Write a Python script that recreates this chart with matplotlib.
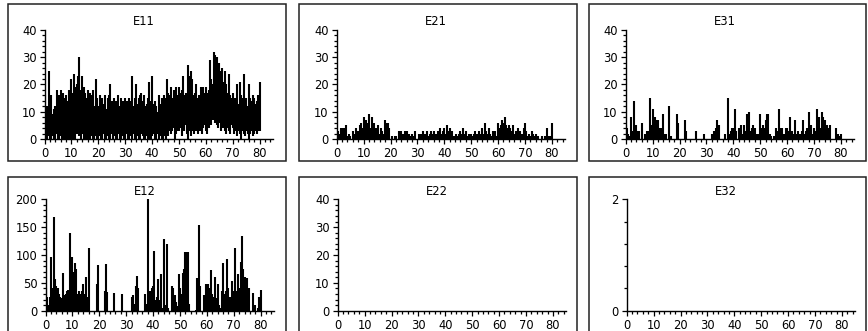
import numpy as np
import matplotlib
matplotlib.use('Agg')
import matplotlib.pyplot as plt
from matplotlib.patches import Rectangle
from matplotlib.ticker import MultipleLocator

plt.rcParams['font.family'] = ['DejaVu Sans']

W, H = 868, 331

# time axis for the dense series, half-unit steps 0..80
t = np.arange(0, 80.5, 0.5)

e11_high = [16, 10, 12, 25, 10, 16, 9, 11, 12, 18, 14, 16, 18, 11, 17, 15, 16, 14, 18, 15,
            22, 17, 24, 19, 20, 23, 30, 18, 23, 19, 17, 15, 18, 14, 17, 16, 18, 12, 22, 15,
            12, 16, 14, 15, 13, 16, 11, 15, 16, 20, 14, 7, 15, 14, 13, 16, 12, 15, 14, 13,
            15, 14, 13, 15, 14, 23, 12, 15, 20, 13, 15, 16, 17, 14, 16, 12, 13, 15, 21, 14,
            23, 13, 14, 12, 10, 16, 13, 15, 14, 16, 15, 22, 17, 16, 19, 15, 18, 14, 19, 16,
            19, 17, 18, 23, 16, 17, 16, 27, 23, 25, 22, 16, 17, 20, 15, 16, 19, 18, 19, 17,
            19, 17, 18, 29, 22, 20, 32, 31, 30, 27, 28, 25, 26, 21, 25, 20, 17, 24, 16, 15,
            17, 14, 15, 20, 13, 21, 16, 15, 24, 14, 15, 12, 20, 15, 14, 16, 15, 13, 14, 16,
            21]
e11_low = [1, 0, 0, 1, 0, 0, 1, 0, 0, 2, 0, 0, 1, 0, 0, 0, 1, 0, 0, 1,
           0, 0, 1, 0, 2, 3, 1, 0, 2, 0, 1, 0, 0, 2, 0, 1, 0, 0, 1, 0,
           0, 1, 0, 0, 2, 0, 0, 1, 0, 0, 2, 0, 1, 0, 0, 2, 0, 0, 1, 0,
           0, 2, 0, 0, 1, 0, 2, 0, 0, 1, 0, 0, 2, 1, 0, 0, 1, 0, 0, 0,
           1, 2, 0, 0, 2, 0, 1, 0, 0, 1, 0, 2, 1, 3, 2, 3, 4, 0, 2, 3,
           3, 4, 1, 3, 3, 5, 2, 0, 3, 1, 3, 2, 4, 3, 2, 3, 3, 2, 4, 5,
           3, 2, 4, 8, 5, 7, 8, 6, 5, 4, 6, 3, 5, 4, 3, 2, 4, 3, 2, 5,
           4, 2, 3, 1, 3, 2, 0, 3, 2, 1, 3, 2, 0, 2, 3, 1, 2, 3, 2, 3,
           3]

e21 = [2, 3, 2, 4, 2, 4, 4, 5, 1, 2, 1, 0, 3, 2, 4, 2, 3, 5, 6, 4,
       8, 5, 7, 6, 9, 4, 8, 3, 6, 4, 3, 5, 2, 4, 3, 2, 7, 6, 6, 4,
       0, 1, 0, 1, 1, 0, 3, 2, 3, 2, 2, 3, 3, 2, 2, 1, 2, 1, 3, 0,
       0, 2, 1, 2, 3, 2, 2, 3, 1, 2, 3, 2, 3, 1, 2, 3, 1, 4, 2, 3,
       4, 2, 5, 3, 4, 2, 3, 1, 1, 2, 1, 2, 3, 2, 4, 2, 3, 1, 2, 1,
       2, 1, 2, 3, 2, 1, 3, 2, 4, 2, 6, 3, 2, 4, 2, 1, 3, 2, 3, 1,
       6, 4, 5, 7, 6, 8, 5, 4, 5, 4, 3, 5, 2, 3, 2, 4, 3, 1, 2, 4,
       6, 3, 1, 2, 1, 3, 2, 1, 2, 1, 1, 0, 0, 1, 0, 1, 4, 1, 1, 1,
       6]

e31_x = [0, 0.5, 1, 1.5, 2, 2.5, 3, 3.5, 4, 4.5, 5, 6, 7, 8, 8.5, 9, 9.5, 10, 10.5, 11,
         11.5, 12, 12.5, 13, 13.5, 14, 14.5, 15, 16, 17, 19, 19.5, 22, 22.5, 26, 29,
         32, 32.5, 33, 33.5, 34, 34.5, 37, 38, 38.5, 39, 39.5, 40, 40.5, 41, 42, 42.5,
         43, 43.5, 44, 44.5, 45, 45.5, 46, 46.5, 47, 47.5, 48, 48.5, 49, 49.5, 50, 50.5,
         51, 51.5, 52, 52.5, 53, 53.5, 54, 55, 56, 56.5, 57, 57.5, 58, 58.5, 59, 59.5,
         60, 60.5, 61, 61.5, 62, 62.5, 63, 63.5, 64, 64.5, 65, 65.5, 66, 66.5, 67, 67.5,
         68, 68.5, 69, 69.5, 70, 70.5, 71, 71.5, 72, 72.5, 73, 73.5, 74, 74.5, 75, 75.5,
         76, 77, 78, 78.5, 79, 79.5, 80]
e31_v = [5, 4, 2, 1, 8, 3, 14, 4, 5, 3, 3, 6, 2, 3, 3, 15, 5, 11, 6, 8,
         7, 7, 4, 4, 3, 9, 2, 2, 12, 1, 9, 6, 7, 3, 3, 2,
         2, 2, 3, 4, 7, 5, 2, 15, 2, 3, 4, 4, 11, 3, 4, 3,
         5, 2, 5, 3, 9, 4, 10, 3, 4, 5, 4, 2, 2, 2, 9, 4,
         5, 4, 7, 9, 9, 2, 1, 1, 4, 3, 11, 4, 4, 2, 2, 4,
         4, 3, 8, 3, 3, 2, 7, 2, 3, 2, 2, 3, 7, 2, 3, 4,
         10, 3, 5, 2, 4, 3, 11, 6, 8, 4, 10, 8, 7, 5, 5, 4,
         5, 0, 4, 2, 2, 1, 2]

e12_x = [0, 0.5, 1, 1.5, 2, 2.5, 3, 3.5, 4, 4.5, 5, 5.5, 6, 6.5, 7, 7.5, 8, 8.5, 9, 9.5,
         10, 10.5, 11, 11.5, 12, 12.5, 13, 13.5, 14, 14.5, 15, 15.5, 16, 19, 19.5,
         22, 22.5, 23, 25.5, 28.5, 32, 32.5, 33, 33.5, 34, 34.5, 37, 37.5, 38, 38.5,
         39, 39.5, 40, 40.5, 41, 41.5, 42, 42.5, 43, 43.5, 44, 44.5, 45, 45.5, 47,
         47.5, 48, 48.5, 49, 49.5, 50, 50.5, 51, 51.5, 52, 52.5, 53, 53.5, 56, 56.5,
         57, 57.5, 59, 59.5, 60, 60.5, 61, 61.5, 62, 62.5, 63, 63.5, 64, 64.5, 65,
         65.5, 66, 66.5, 67, 67.5, 68, 68.5, 69, 69.5, 70, 70.5, 71, 71.5, 72, 72.5,
         73, 73.5, 74, 74.5, 75, 75.5, 77, 78, 79, 79.5, 80]
e12_v = [40, 25, 10, 25, 97, 40, 168, 57, 45, 40, 30, 25, 22, 68, 28, 30, 35, 38, 140, 65,
         97, 70, 85, 75, 30, 35, 30, 35, 48, 30, 60, 25, 113, 48, 82,
         35, 83, 33, 32, 30, 25, 28, 12, 45, 62, 40, 30, 12, 200, 12,
         35, 40, 45, 108, 20, 25, 57, 20, 65, 5, 128, 10, 120, 5, 45,
         40, 28, 15, 8, 65, 40, 30, 68, 75, 105, 105, 105, 12, 2, 58,
         153, 45, 28, 48, 15, 48, 40, 73, 30, 25, 60, 22, 48, 10, 5,
         35, 85, 30, 35, 93, 40, 25, 10, 53, 35, 113, 35, 65, 40, 88,
         135, 75, 60, 40, 58, 40, 32, 10, 5, 25, 37]

titles = ['E11', 'E21', 'E31', 'E12', 'E22', 'E32']
ymaxes = [40, 40, 40, 200, 40, 2]
ymajor = [10, 10, 10, 50, 10, 2]
yminor = [2, 2, 2, 10, 2, 0.4]

# pixel layout: (x of 0, y top of plot, y of zero)
px_x0 = [44.5, 336.7, 625.7, 45.5, 337.7, 626.7]
px_top = [30, 30, 30, 199.3, 199.3, 199.3]
px_bot = [139, 139, 139, 310.7, 310.7, 310.7]
unit = 2.69
xmax = 85

fig = plt.figure(figsize=(W / 100, H / 100), dpi=100)

# panel frames
for bx0, by0, bx1, by1 in [(8, 4, 286, 161), (299, 4, 577, 161), (589, 4, 866, 161),
                           (8, 177, 286, 345), (299, 177, 577, 345), (589, 177, 866, 345)]:
    fig.patches.append(Rectangle((bx0 / W, 1 - by1 / H), (bx1 - bx0) / W, (by1 - by0) / H,
                                 transform=fig.transFigure, fill=False, ec='#222222', lw=1.1))

axes = []
for i in range(6):
    left = px_x0[i] / W
    bottom = 1 - px_bot[i] / H
    ax = fig.add_axes([left, bottom, xmax * unit / W, (px_bot[i] - px_top[i]) / H])
    ax.set_xlim(0, xmax)
    ax.set_ylim(0, ymaxes[i])
    ax.patch.set_alpha(0)
    for s in ['top', 'right']:
        ax.spines[s].set_visible(False)
    for s in ['left', 'bottom']:
        ax.spines[s].set_linewidth(1.0)
    ax.xaxis.set_major_locator(MultipleLocator(10))
    ax.xaxis.set_minor_locator(MultipleLocator(2))
    ax.yaxis.set_major_locator(MultipleLocator(ymajor[i]))
    ax.yaxis.set_minor_locator(MultipleLocator(yminor[i]))
    ax.tick_params(which='major', length=3.8, width=0.9, labelsize=8.3, pad=2.0)
    ax.tick_params(which='minor', length=2.0, width=0.9)
    ax.set_xticks([v for v in range(0, 81, 10)])
    ax.text(37, 1 + 8 / (px_bot[i] - px_top[i]), titles[i], ha='center', va='center',
            fontsize=8.3, transform=ax.get_xaxis_transform())
    axes.append(ax)

axes[0].vlines(t, e11_low, e11_high, colors='k', lw=1.5)
axes[1].vlines(t, 0, e21, colors='k', lw=1.5)
axes[2].vlines(e31_x, 0, e31_v, colors='k', lw=1.5)
axes[3].vlines(e12_x, 0, e12_v, colors='k', lw=1.5)

fig.savefig('out.png', dpi=100)
